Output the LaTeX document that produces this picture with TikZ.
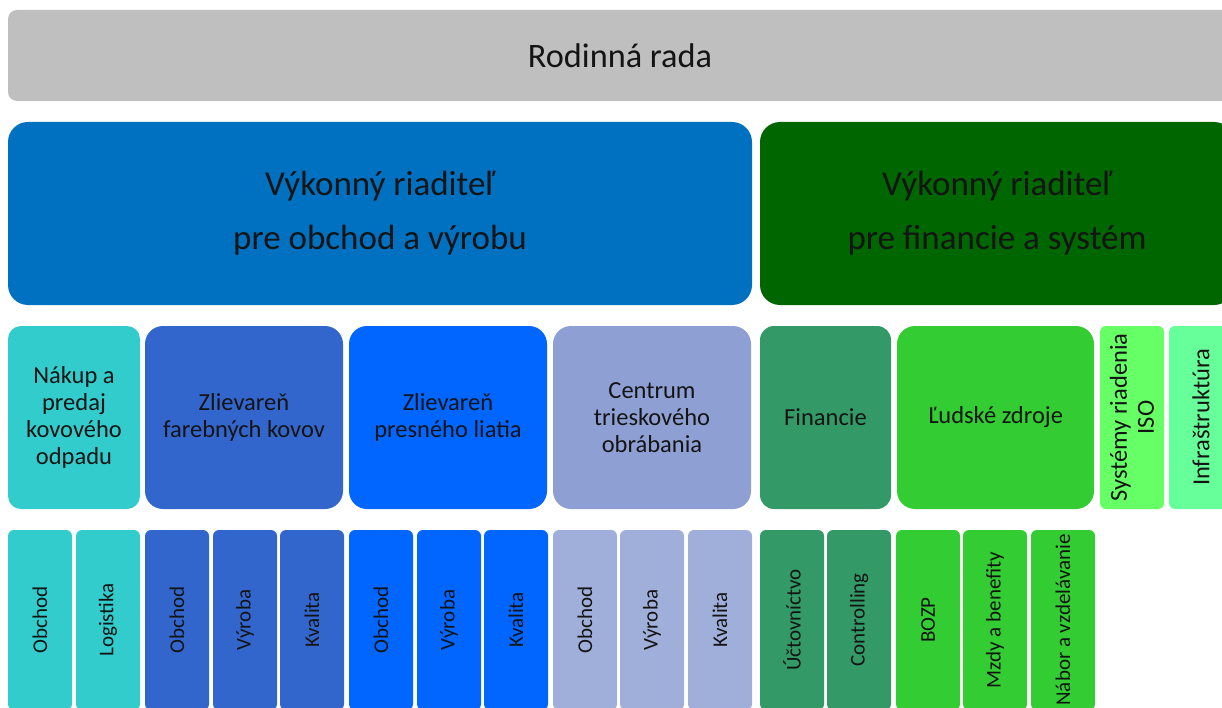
\documentclass[tikz,border=0pt]{standalone}
\usepackage{fontspec}
\setmainfont{Carlito}
\definecolor{cgray}{HTML}{BFBFBF}
\definecolor{cblue}{HTML}{0070C0}
\definecolor{cdgreen}{HTML}{006600}
\definecolor{cteal}{HTML}{33CCCC}
\definecolor{cmblue}{HTML}{3366CC}
\definecolor{cbright}{HTML}{0066FF}
\definecolor{clav}{HTML}{8EA0D3}
\definecolor{clavl}{HTML}{A0AFDA}
\definecolor{cfin}{HTML}{339966}
\definecolor{chr}{HTML}{33CC33}
\definecolor{ciso}{HTML}{66FF66}
\definecolor{cinfra}{HTML}{66FF99}
\definecolor{ctext}{HTML}{141414}
\tikzset{
  box/.style={fill=#1, draw=none, inner sep=0pt, text=ctext, align=center},
  toptext/.style={font=\fontsize{34.3}{40}\selectfont},
  dirtext/.style={font=\fontsize{35}{54}\selectfont},
  deptext/.style={font=\fontsize{24.5}{27}\selectfont},
  subtext/.style={font=\fontsize{21}{24}\selectfont},
  rowthree/.style={minimum height=183pt, rounded corners=#1},
  rowfour/.style={rotate=90, minimum width=180pt, minimum height=64pt, rounded corners=6pt, subtext},
}
\begin{document}
\begin{tikzpicture}[x=1pt,y=-1pt]
\useasboundingbox (0,0) rectangle (1222,708);
% top
\node[box=cgray, toptext, minimum width=1224pt, minimum height=91pt, rounded corners=9pt] (rada) at (620,55.5) {Rodinná rada};
% row 2
\node[box=cblue, dirtext, minimum width=744pt, minimum height=183pt, rounded corners=20pt] (vro) at (380,213.5) {Výkonný riaditeľ\\pre obchod a výrobu};
\node[box=cdgreen, dirtext, minimum width=474pt, minimum height=183pt, rounded corners=20pt] (vrf) at (997,213.5) {Výkonný riaditeľ\\pre financie a systém};
% row 3
\node[box=cteal, deptext, rowthree=13pt, minimum width=132pt] (nakup) at (74,417.5) {Nákup a\\predaj\\kovového\\odpadu};
\node[box=cmblue, deptext, rowthree=18pt, minimum width=198pt] (zfar) at (244,417.5) {Zlievareň\\farebných kovov};
\node[box=cbright, deptext, rowthree=18pt, minimum width=198pt] (zpres) at (448,417.5) {Zlievareň\\presného liatia};
\node[box=clav, deptext, rowthree=18pt, minimum width=198pt] (centrum) at (652,417.5) {Centrum\\trieskového\\obrábania};
\node[box=cfin, deptext, rowthree=14pt, minimum width=131pt] (fin) at (825.5,417.5) {Financie};
\node[box=chr, deptext, rowthree=18pt, minimum width=197pt] (ludia) at (995.5,417.5) {Ľudské zdroje};
\node[box=ciso, deptext, rotate=90, minimum width=183pt, minimum height=64pt, rounded corners=6pt] (iso) at (1132,417.5) {Systémy riadenia\\ISO};
\node[box=cinfra, deptext, rotate=90, minimum width=183pt, minimum height=64pt, rounded corners=6pt] (infra) at (1201,417.5) {Infraštruktúra};
% row 4
\node[box=cteal, rowfour] (n1) at (40,620) {Obchod};
\node[box=cteal, rowfour] (n2) at (108,620) {Logistika};
\node[box=cmblue, rowfour] (f1) at (177,620) {Obchod};
\node[box=cmblue, rowfour] (f2) at (245,620) {Výroba};
\node[box=cmblue, rowfour] (f3) at (312,620) {Kvalita};
\node[box=cbright, rowfour] (p1) at (381,620) {Obchod};
\node[box=cbright, rowfour] (p2) at (449,620) {Výroba};
\node[box=cbright, rowfour] (p3) at (516,620) {Kvalita};
\node[box=clavl, rowfour] (c1) at (585,620) {Obchod};
\node[box=clavl, rowfour] (c2) at (652,620) {Výroba};
\node[box=clavl, rowfour] (c3) at (720,620) {Kvalita};
\node[box=cfin, rowfour] (u1) at (792,620) {Účtovníctvo};
\node[box=cfin, rowfour] (u2) at (859,620) {Controlling};
\node[box=chr, rowfour] (h1) at (928,620) {BOZP};
\node[box=chr, rowfour] (h2) at (995,620) {Mzdy a benefity};
\node[box=chr, rowfour] (h3) at (1063,620) {Nábor a vzdelávanie};
\end{tikzpicture}
\end{document}
